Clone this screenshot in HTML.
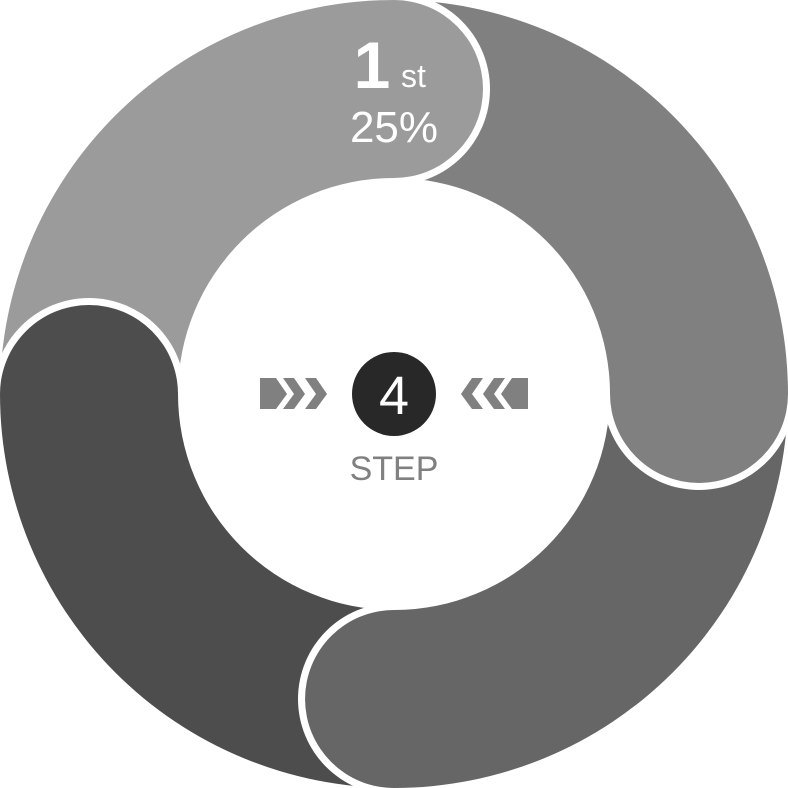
<!DOCTYPE html>
<html><head><meta charset="utf-8"><style>
html,body{margin:0;padding:0;background:#fff;}
svg{display:block;}
</style></head><body>
<svg width="788" height="788" viewBox="0 0 788 788" xmlns="http://www.w3.org/2000/svg" font-family="Liberation Sans, sans-serif">
<path d="M0,394 A394,394 0 0 1 394,0 L394,178 A216,216 0 0 0 178,394 Z" fill="#9b9b9b"/>
<path d="M394,0 A394,394 0 0 1 788,394 L610,394 A216,216 0 0 0 394,178 Z" fill="#808080"/>
<path d="M788,394 A394,394 0 0 1 394,788 L394,610 A216,216 0 0 0 610,394 Z" fill="#666666"/>
<path d="M394,788 A394,394 0 0 1 0,394 L178,394 A216,216 0 0 0 394,610 Z" fill="#4d4d4d"/>
<path d="M394,-7 A96,96 0 0 1 394,185 Z" fill="#fff"/>
<path d="M394,0 A89,89 0 0 1 394,178 Z" fill="#9b9b9b"/>
<path d="M795,394 A96,96 0 0 1 603,394 Z" fill="#fff"/>
<path d="M788,394 A89,89 0 0 1 610,394 Z" fill="#808080"/>
<path d="M394,795 A96,96 0 0 1 394,603 Z" fill="#fff"/>
<path d="M394,788 A89,89 0 0 1 394,610 Z" fill="#666666"/>
<path d="M-7,394 A96,96 0 0 1 185,394 Z" fill="#fff"/>
<path d="M0,394 A89,89 0 0 1 178,394 Z" fill="#4d4d4d"/>
<text x="372" y="88" font-size="66" font-weight="bold" fill="#fff" text-anchor="middle">1</text>
<text x="401" y="87" font-size="32" fill="#fff">st</text>
<text x="394" y="142" font-size="44" fill="#fff" text-anchor="middle">25%</text>
<circle cx="394" cy="394" r="42" fill="#282828"/>
<text x="394" y="414" font-size="54" fill="#fff" text-anchor="middle">4</text>
<g fill="#808080">
<polygon points="260,378 276,378 287,394 276,409 260,409"/>
<polygon points="283,378 294,378 305,394 294,409 283,409 294,394"/>
<polygon points="305,378 316,378 327,394 316,409 305,409 316,394"/>
<polygon points="528,378 512,378 501,394 512,409 528,409"/>
<polygon points="505,378 494,378 483,394 494,409 505,409 494,394"/>
<polygon points="483,378 472,378 461,394 472,409 483,409 472,394"/>
</g>
<text x="394" y="480" font-size="34" fill="#808080" text-anchor="middle">STEP</text>
</svg>
</body></html>
